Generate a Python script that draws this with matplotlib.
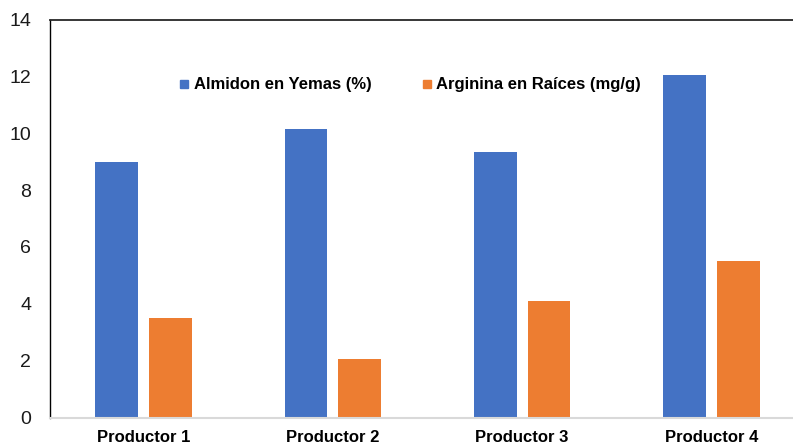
import matplotlib
matplotlib.use("Agg")
import matplotlib.pyplot as plt
from matplotlib.lines import Line2D
import numpy as np

plt.rcParams['font.family'] = ['Liberation Sans', 'DejaVu Sans']

categories = ["Productor 1", "Productor 2", "Productor 3", "Productor 4"]
almidon = [9.0, 10.15, 9.35, 12.05]
arginina = [3.5, 2.05, 4.1, 5.5]
series_names = ["Almidon en Yemas (%)", "Arginina en Raíces (mg/g)"]
yticks = [0, 2, 4, 6, 8, 10, 12, 14]

blue = "#4472C4"
orange = "#ED7D31"

fig = plt.figure(figsize=(7.93, 4.47), dpi=100)
ax = fig.add_axes([50 / 793, 29.5 / 447, 755 / 793, 398 / 447])

x = np.arange(len(categories))
w = 0.227
off = 0.142
ax.bar(x - off, almidon, width=w, color=blue, zorder=2)
ax.bar(x + off, arginina, width=w, color=orange, zorder=2)

ax.set_xlim(-0.495, 3.495)
ax.set_ylim(0, 14)
ax.set_yticks(yticks)
ax.set_yticklabels([str(t) for t in yticks], fontsize=14, color="#1a1a1a")
ax.set_xticks(x)
ax.set_xticklabels(categories, fontsize=12, fontweight="bold", color="black")
ax.tick_params(axis="y", length=0, pad=13.5)
ax.tick_params(axis="x", length=0, pad=9)

ax.spines["right"].set_visible(False)
ax.spines["top"].set_color("#262626")
ax.spines["top"].set_linewidth(1.3)
ax.spines["left"].set_color("black")
ax.spines["left"].set_linewidth(1.0)
ax.spines["bottom"].set_color("#d9d9d9")
ax.spines["bottom"].set_linewidth(1.5)

handles = [
    Line2D([], [], linestyle="none", marker="s", markersize=6,
           markerfacecolor=blue, markeredgecolor=blue),
    Line2D([], [], linestyle="none", marker="s", markersize=6,
           markerfacecolor=orange, markeredgecolor=orange),
]
fig.legend(handles, series_names, loc="center", ncol=2,
           bbox_to_anchor=(410 / 793, 1 - 85 / 447), frameon=False,
           prop={"size": 12, "weight": "bold"},
           handlelength=0.6, handletextpad=0.3, columnspacing=3.0,
           borderaxespad=0)

fig.savefig("out.png", dpi=100)
